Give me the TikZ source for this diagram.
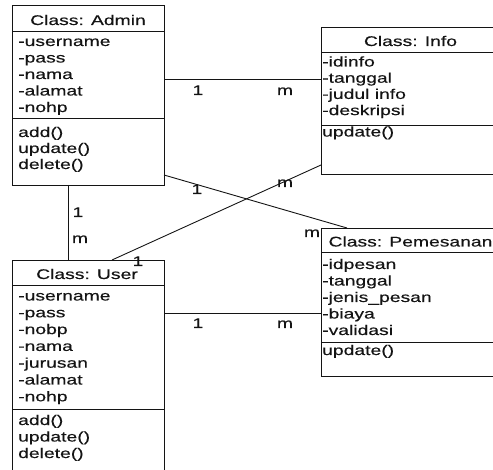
\documentclass[tikz,border=0pt]{standalone}
\usepackage{fontspec}
\setmainfont{Liberation Sans}[FakeStretch=1.38, FakeBold=0.3]
\definecolor{ink}{HTML}{141414}
\begin{document}
\begin{tikzpicture}[x=1pt, y=-1pt,
  font=\fontsize{14}{16}\selectfont, text=ink,
  box/.style={draw=ink, line width=0.9pt, anchor=north west, inner sep=0pt, outer sep=0pt},
  sep/.style={draw=ink, line width=0.9pt},
  link/.style={draw=ink, line width=0.9pt},
  title/.style={anchor=base, inner sep=0pt},
  member/.style={anchor=base west, inner sep=0pt},
  mult/.style={anchor=base, inner sep=0pt}]
\path[use as bounding box, clip] (0,0) rectangle (493,470);
\fill[white] (0,0) rectangle (493,470);

% ---- class boxes ----
\node[box, minimum width=152pt, minimum height=180pt] (admin) at (12,5) {};
\node[box, minimum width=179pt, minimum height=147pt] (info) at (321,27) {};
\node[box, minimum width=179pt, minimum height=148pt] (pemesanan) at (321,228) {};
\node[box, minimum width=152pt, minimum height=222pt] (user) at (12,260) {};

% ---- compartment separators ----
\draw[sep] (admin.west |- 0,31) -- (admin.east |- 0,31);
\draw[sep] (admin.west |- 0,118) -- (admin.east |- 0,118);
\draw[sep] (info.west |- 0,52) -- (info.east |- 0,52);
\draw[sep] (info.west |- 0,125) -- (info.east |- 0,125);
\draw[sep] (pemesanan.west |- 0,252) -- (pemesanan.east |- 0,252);
\draw[sep] (pemesanan.west |- 0,342) -- (pemesanan.east |- 0,342);
\draw[sep] (user.west |- 0,285) -- (user.east |- 0,285);
\draw[sep] (user.west |- 0,409) -- (user.east |- 0,409);

% ---- Admin ----
\node[title] (admin-t) at (88,25) {Class: Admin};
\foreach \s [count=\i] in {-username,-pass,-nama,-alamat,-nohp}
  \node[member] (admin-a\i) at (18,{46+16.5*(\i-1)}) {\s};
\foreach \s [count=\i] in {add(),update(),delete()}
  \node[member] (admin-m\i) at (18,{137+16*(\i-1)}) {\s};

% ---- Info ----
\node[title] (info-t) at (410.5,46) {Class: Info};
\foreach \s [count=\i] in {-idinfo,-tanggal,-judul info,-deskripsi}
  \node[member] (info-a\i) at (322,{66.5+16.2*(\i-1)}) {\s};
\node[member] (info-m1) at (322,136.5) {update()};

% ---- Pemesanan ----
\node[title] (pemesanan-t) at (410.5,246.5) {Class: Pemesanan};
\foreach \s [count=\i] in {-idpesan,-tanggal,-jenis\_pesan,-biaya,-validasi}
  \node[member] (pemesanan-a\i) at (322,{269+16.5*(\i-1)}) {\s};
\node[member] (pemesanan-m1) at (322,355) {update()};

% ---- User ----
\node[title] (user-t) at (87,279) {Class: User};
\foreach \s [count=\i] in {-username,-pass,-nobp,-nama,-jurusan,-alamat,-nohp}
  \node[member] (user-a\i) at (18,{300.5+16.8*(\i-1)}) {\s};
\foreach \s [count=\i] in {add(),update(),delete()}
  \node[member] (user-m\i) at (18,{425+16.5*(\i-1)}) {\s};

% ---- associations ----
\draw[link] (admin.east |- 0,79.5) -- (info.west |- 0,79.5);
\draw[link] (user.east |- 0,313) -- (pemesanan.west |- 0,313);
\draw[link] ([xshift=56pt]admin.south west) -- ([xshift=56pt]user.north west);
\draw[link] (admin.east |- 0,175) -- ([xshift=26pt]pemesanan.north west);
\draw[link] ([xshift=100pt]user.north west) -- (info.west |- 0,165);

% ---- multiplicities ----
\node[mult] (m-ai-1) at (198,95) {1};
\node[mult] (m-ai-m) at (285,95) {m};
\node[mult] (m-up-1) at (198,328) {1};
\node[mult] (m-up-m) at (285,328) {m};
\node[mult] (m-au-1) at (78,217) {1};
\node[mult] (m-au-m) at (80,243) {m};
\node[mult] (m-ap-1) at (197,194) {1};
\node[mult] (m-ap-m) at (312,237) {m};
\node[mult] (m-ui-m) at (285,187) {m};
\node[mult] (m-ui-1) at (138,266) {1};
\end{tikzpicture}
\end{document}
